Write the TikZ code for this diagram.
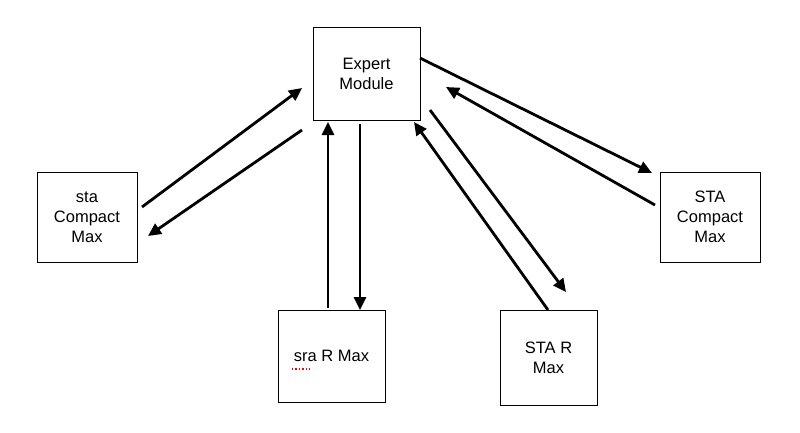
\documentclass[tikz,border=0pt]{standalone}
\usepackage{fontspec}
\setmainfont{Liberation Sans}
\usetikzlibrary{arrows.meta}
\begin{document}
\begin{tikzpicture}[x=1pt,y=-1pt,
  box/.style={draw,line width=0.9pt,align=center,font=\fontsize{16.5}{20}\selectfont},
  arr/.style={line width=2.8pt,-{Triangle[length=13pt,width=12pt]}}]
\useasboundingbox (0,0) rectangle (800,432);
\node[box,minimum width=107pt,minimum height=93pt] (em) at (366.5,73.5) {Expert\\Module};
\node[box,minimum width=100pt,minimum height=90pt] (sc) at (87,217) {sta\\Compact\\Max};
\node[box,minimum width=107pt,minimum height=92pt] (sr) at (331.5,356) {sra R Max};
\node[box,minimum width=97pt,minimum height=95pt] (Sr) at (548.5,357.5) {STA R\\Max};
\node[box,minimum width=100pt,minimum height=90pt] (Sc) at (710,217) {STA\\Compact\\Max};
\draw[red,dotted,line width=1.5pt] ([xshift=-40pt,yshift=-13pt]sr.center) -- ([xshift=-22pt,yshift=-13pt]sr.center);
\coordinate (a1) at (142,207); \coordinate (b1) at (302,88);
\coordinate (a2) at (302,130); \coordinate (b2) at (148,236);
\coordinate (a3) at (328,308); \coordinate (b3) at (328,122);
\coordinate (a4) at (360,124); \coordinate (b4) at (360,310);
\coordinate (a5) at (420,58);  \coordinate (b5) at (652,173);
\coordinate (a6) at (655,205); \coordinate (b6) at (446,87);
\coordinate (a7) at (430,110); \coordinate (b7) at (566,292);
\coordinate (a8) at (548,310); \coordinate (b8) at (414,122);
\foreach \i in {1,...,8} \draw[arr] (a\i) -- (b\i);
\end{tikzpicture}
\end{document}
